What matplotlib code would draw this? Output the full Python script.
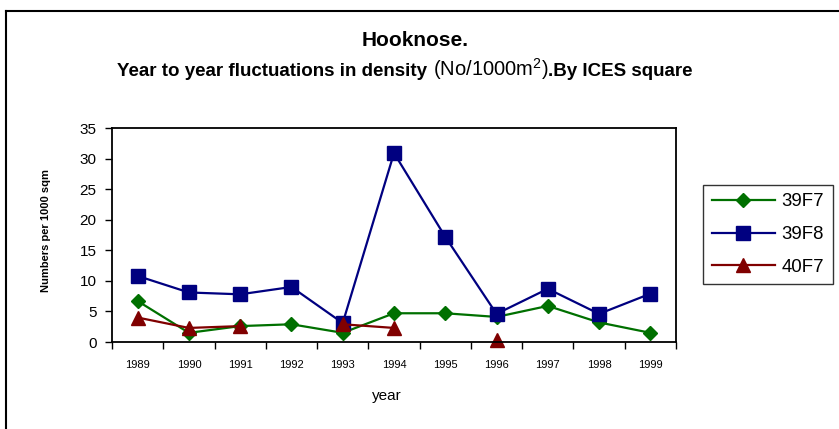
import numpy as np
import matplotlib
matplotlib.use("Agg")
import matplotlib.pyplot as plt
from matplotlib.lines import Line2D

# ================> Part Data
years = [1989, 1990, 1991, 1992, 1993, 1994, 1995, 1996, 1997, 1998, 1999]
sq_39F7 = [6.7, 1.5, 2.6, 2.9, 1.5, 4.7, 4.7, 4.1, 5.9, 3.2, 1.5]
sq_39F8 = [10.8, 8.1, 7.8, 9.0, 3.1, 30.9, 17.2, 4.6, 8.7, 4.6, 7.9]
sq_40F7 = [4.0, 2.3, 2.6, np.nan, 2.9, 2.3, np.nan, 0.4, np.nan, np.nan, np.nan]
series_names = ["39F7", "39F8", "40F7"]
y_ticks = [0, 5, 10, 15, 20, 25, 30, 35]

plt.rcParams['font.family'] = ['Liberation Sans', 'DejaVu Sans']
plt.rcParams['mathtext.fontset'] = 'custom'
plt.rcParams['mathtext.rm'] = 'Liberation Sans'
plt.rcParams['mathtext.default'] = 'regular'

W, H = 839, 429
fig = plt.figure(figsize=(W / 100, H / 100), dpi=100)
fig.patch.set_facecolor("white")

# outer chart border (only top and left visible)
fig.add_artist(Line2D([6 / W, 6 / W], [0, 1 - 11 / H], transform=fig.transFigure, color="black", lw=1.5))
fig.add_artist(Line2D([6 / W, 1], [1 - 11 / H, 1 - 11 / H], transform=fig.transFigure, color="black", lw=1.5))

ax = fig.add_axes([112 / W, 1 - 342 / H, (676 - 112) / W, (342 - 128) / H])

styles = [
    dict(color="#007000", marker="D", markersize=7),
    dict(color="#000080", marker="s", markersize=10),
    dict(color="#800000", marker="^", markersize=10.5),
]
for name, vals, st in zip(series_names, [sq_39F7, sq_39F8, sq_40F7], styles):
    ax.plot(years, vals, lw=1.6, label=name, clip_on=False,
            markeredgecolor=st["color"], **st)

ax.set_xlim(years[0] - 0.5, years[-1] + 0.5)
ax.set_ylim(0, 35)
ax.set_yticks(y_ticks)
ax.set_yticklabels([str(v) for v in y_ticks], fontsize=11)
ax.set_xticks([y - 0.5 for y in years] + [years[-1] + 0.5])
ax.set_xticklabels([])
ax.set_xticks(years, minor=True)
ax.set_xticklabels([str(y) for y in years], minor=True, fontsize=8)
ax.tick_params(axis="x", which="minor", length=0, pad=13)
ax.tick_params(axis="both", which="major", direction="out", length=5, width=1, color="black")
ax.tick_params(axis="y", pad=6)
for sp in ax.spines.values():
    sp.set_linewidth(1.3)
    sp.set_color("black")

fig.text(387 / W, 1 - 396 / H, "year", ha="center", va="center", fontsize=11)
fig.text(46 / W, 1 - 230 / H, "Numbers per 1000 sqm", rotation=90, ha="center", va="center",
         fontsize=8, fontweight="bold", family=['Liberation Sans Narrow', 'Liberation Sans'])

# titles
fig.text(415 / W, 1 - 40 / H, "Hooknose.", ha="center", va="center", fontsize=15, fontweight="bold")
renderer = fig.canvas.get_renderer()
parts = [("Year to year fluctuations in density ", "bold", 13.5),
         ("(No/1000m$^2$)", "normal", 14.5),
         (".By ICES square", "bold", 13.5)]
texts = []
for s, w, fs in parts:
    t = fig.text(0, 1 - 76 / H, s, ha="left", va="baseline", fontsize=fs, fontweight=w)
    texts.append(t)
widths = [t.get_window_extent(renderer).width for t in texts]
start = 405 - sum(widths) / 2
for t, wd in zip(texts, widths):
    t.set_x(start / W)
    start += wd

leg = ax.legend(loc="center", bbox_to_anchor=((699 + 837) / 2 / W, 1 - (183 + 286) / 2 / H),
                bbox_transform=fig.transFigure, fontsize=13.4, frameon=True, fancybox=False,
                edgecolor="black", handlelength=3.4, labelspacing=0.85, borderpad=0.45,
                handletextpad=0.35, borderaxespad=0)
leg.get_frame().set_linewidth(1.0)

fig.savefig("out.png", dpi=100)
